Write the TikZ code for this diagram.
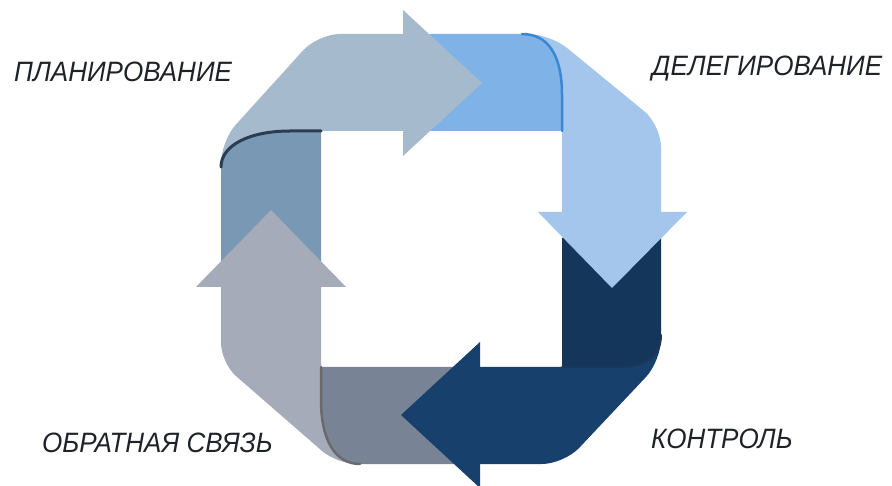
\documentclass[tikz,border=0pt]{standalone}
\usepackage{fontspec}
\setmainfont{Liberation Sans}
\newfontfamily\lblfont[FakeStretch=0.93]{Liberation Sans}
\begin{document}
\begin{tikzpicture}[x=1pt,y=-1pt,
  lbl/.style={inner sep=0pt,anchor=base west,text=labeltext,font=\lblfont\fontsize{28}{32}\selectfont\itshape},
  fold/.style={line cap=round}]
\definecolor{labeltext}{HTML}{1F2329}
\definecolor{pA}{HTML}{A6BACE}
\definecolor{pAt}{HTML}{7898B4}
\definecolor{pB}{HTML}{A4C6EC}
\definecolor{pBt}{HTML}{7FB2E6}
\definecolor{pC}{HTML}{17406D}
\definecolor{pCt}{HTML}{13365A}
\definecolor{pD}{HTML}{A5ABB8}
\definecolor{pDt}{HTML}{798396}
\definecolor{fA}{HTML}{2A3D52}
\definecolor{fB}{HTML}{3A87D8}
\definecolor{fC}{HTML}{1D3757}
\definecolor{fD}{HTML}{6A6A6A}
\useasboundingbox (0,0) rectangle (892,486);
\fill[white] (0,0) rectangle (892,486);
% tails (back sides of the folds)
\fill[pAt] (221,262) -- (221,167) .. controls (221,145) and (250,131) .. (290,131) -- (321,131) -- (321,262) -- cycle;
\fill[pBt] (430,34) -- (522,34) .. controls (548,34) and (562,55) .. (562,95) -- (562,131) -- (430,131) -- cycle;
\fill[pCt] (562,238) -- (661,238) -- (661,335) .. controls (661,357) and (645,367) .. (620,367) -- (562,367) -- cycle;
\fill[pDt] (455,367) -- (321,367) -- (321,400) .. controls (321,440) and (335,464) .. (360,464) -- (455,464) -- cycle;
% piece 1 : planning (top-left, pointing right)
\fill[pA] (221,167) [rounded corners=22pt] -- (221,141) -- (318,34) [sharp corners] -- (403,34) -- (403,10) -- (482,83) -- (403,156) -- (403,131) -- (321,131) -- (290,131) .. controls (250,131) and (221,145) .. (221,167) -- cycle;
\draw[fold,fA,line width=3pt] (321,131) -- (290,131) .. controls (250,131) and (221,145) .. (221,167);
% piece 2 : delegation (top-right, pointing down)
\fill[pB] (522,34) [rounded corners=22pt] -- (550,34) -- (661,125) [sharp corners] -- (661,212) -- (687,212) -- (612,288) -- (538,212) -- (562,212) -- (562,131) -- (562,95) .. controls (562,55) and (548,34) .. (522,34) -- cycle;
\draw[fold,fB,line width=2.5pt] (562,131) -- (562,95) .. controls (562,55) and (548,34) .. (522,34);
% piece 3 : control (bottom-right, pointing left)
\fill[pC] (661,335) [rounded corners=22pt] -- (661,361) -- (564,464) [sharp corners] -- (480,464) -- (480,488) -- (401,415) -- (480,342) -- (480,367) -- (620,367) .. controls (645,367) and (661,357) .. (661,335) -- cycle;
\draw[fold,fC,line width=2pt] (562,367) -- (620,367) .. controls (645,367) and (661,357) .. (661,335);
% piece 4 : feedback (bottom-left, pointing up)
\fill[pD] (360,464) [rounded corners=20pt] -- (337,464) -- (221,363) [sharp corners] -- (221,287) -- (196,287) -- (271,210) -- (346,287) -- (321,287) -- (321,400) .. controls (321,440) and (335,464) .. (360,464) -- cycle;
\draw[fold,fD,line width=2.5pt] (321,367) -- (321,400) .. controls (321,440) and (335,464) .. (360,464);
% labels
\node[lbl] (plan) at (14,82) {ПЛАНИРОВАНИЕ};
\node[lbl] (deleg) at (652,76) {ДЕЛЕГИРОВАНИЕ};
\node[lbl] (feed) at (42,452) {ОБРАТНАЯ СВЯЗЬ};
\node[lbl] (ctrl) at (651,448) {КОНТРОЛЬ};
\end{tikzpicture}
\end{document}
